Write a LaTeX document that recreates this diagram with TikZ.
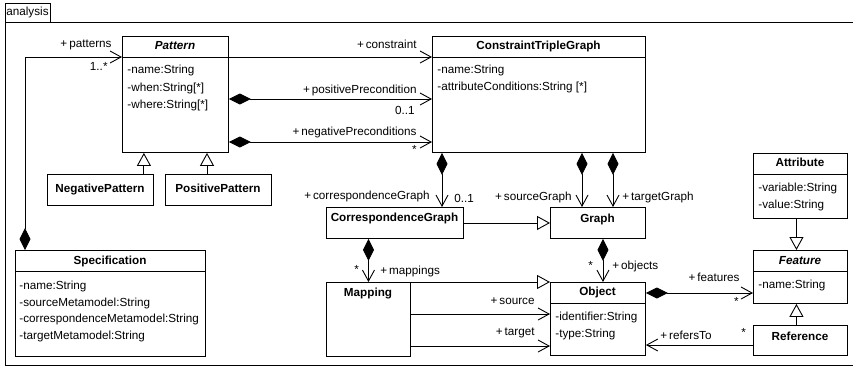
\documentclass[tikz,border=0pt]{standalone}
\usepackage{fontspec}
\setmainfont{Liberation Sans}
\usetikzlibrary{arrows.meta}

\begin{document}
\begin{tikzpicture}[x=1pt,y=-1pt,
  line width=0.9pt,
  every node/.style={font=\fontsize{11.7}{13}\selectfont, inner sep=0pt},
  cls/.style={draw, anchor=north west, inner sep=0pt},
  ttl/.style={font=\fontsize{11.7}{13}\selectfont\bfseries, anchor=mid},
  ittl/.style={font=\fontsize{11.7}{13}\selectfont\bfseries\itshape, anchor=mid},
  attr/.style={anchor=mid west},
  lblL/.style={anchor=mid east},
  lblR/.style={anchor=mid west},
  openhead/.style={-{Straight Barb[length=11pt,width=12pt,line width=0.9pt]}},
  comphead/.style={{Diamond[length=22pt,width=11pt]}-{Straight Barb[length=11pt,width=12pt,line width=0.9pt]}},
  genhead/.style={-{Triangle[open,length=13pt,width=14pt,fill=white]}}
]
\useasboundingbox (0,0) rectangle (853,367);

% package frame (its right side runs past the page edge) and its tab
\draw (5,22) rectangle (856,365);
\draw (5,3) rectangle (50,22);
\node[anchor=mid] (tab) at (27.5,13) {analysis};

% classes
\node[cls, minimum width=106pt, minimum height=116pt] (pattern) at (122,36) {};
\draw ([yshift=-21pt]pattern.north west) -- ([yshift=-21pt]pattern.north east);
\node[ittl] (patternT) at (175,47) {Pattern};
\node[attr] (pa1) at (127,71) {-name:String};
\node[attr] (pa2) at (127,89) {-when:String[*]};
\node[attr] (pa3) at (127,106) {-where:String[*]};

\node[cls, minimum width=213pt, minimum height=116pt] (ctg) at (432,36) {};
\draw ([yshift=-21pt]ctg.north west) -- ([yshift=-21pt]ctg.north east);
\node[ttl] (ctgT) at (538.5,47) {ConstraintTripleGraph};
\node[attr] (ca1) at (437,71) {-name:String};
\node[attr] (ca2) at (437,88) {-attributeConditions:String [*]};

\node[cls, minimum width=106pt, minimum height=31pt] (negp) at (47,174) {};
\node[ttl] (negpT) at (100,189.5) {NegativePattern};
\node[cls, minimum width=106pt, minimum height=31pt] (posp) at (165,174) {};
\node[ttl] (pospT) at (218,189.5) {PositivePattern};

\node[cls, minimum width=190pt, minimum height=106pt] (spec) at (15,250) {};
\draw ([yshift=-21pt]spec.north west) -- ([yshift=-21pt]spec.north east);
\node[ttl] (specT) at (110,261.5) {Specification};
\node[attr] (sa1) at (19,287) {-name:String};
\node[attr] (sa2) at (19,303.5) {-sourceMetamodel:String};
\node[attr] (sa3) at (19,320) {-correspondenceMetamodel:String};
\node[attr] (sa4) at (19,336.5) {-targetMetamodel:String};

\node[cls, minimum width=137pt, minimum height=31pt] (cg) at (326,207) {};
\node[ttl] (cgT) at (394.5,219) {CorrespondenceGraph};

\node[cls, minimum width=95pt, minimum height=31pt] (graph) at (550,207) {};
\node[ttl] (graphT) at (597.5,219.5) {Graph};

\node[cls, minimum width=84pt, minimum height=74pt] (mapping) at (326,282) {};
\node[ttl] (mappingT) at (368,294) {Mapping};

\node[cls, minimum width=95pt, minimum height=73pt] (object) at (550,282) {};
\draw ([yshift=-21pt]object.north west) -- ([yshift=-21pt]object.north east);
\node[ttl] (objectT) at (597.5,293) {Object};
\node[attr] (oa1) at (555,318) {-identifier:String};
\node[attr] (oa2) at (555,334.5) {-type:String};

\node[cls, minimum width=94pt, minimum height=65pt] (attribute) at (753,153) {};
\draw ([yshift=-21pt]attribute.north west) -- ([yshift=-21pt]attribute.north east);
\node[ttl] (attributeT) at (800,164) {Attribute};
\node[attr] (aa1) at (758,189) {-variable:String};
\node[attr] (aa2) at (758,206) {-value:String};

\node[cls, minimum width=94pt, minimum height=53pt] (feature) at (753,250) {};
\draw ([yshift=-21pt]feature.north west) -- ([yshift=-21pt]feature.north east);
\node[ittl] (featureT) at (800,261.5) {Feature};
\node[attr] (fa1) at (758,286) {-name:String};

\node[cls, minimum width=94pt, minimum height=30pt] (reference) at (753,325) {};
\node[ttl] (referenceT) at (800,337.5) {Reference};

% Specification --> Pattern
\draw[comphead] ([xshift=10pt]spec.north west) |- ([yshift=-21pt]pattern.north west);
\node[lblL] (lpat) at (112,45) {+\,patterns};
\node[lblL] (mpat) at (108,68) {1..*};

% Pattern --> ConstraintTripleGraph
\draw[openhead] ([yshift=-21pt]pattern.north east) -- ([yshift=-21pt]ctg.north west);
\node[lblL] (lcon) at (417,46) {+\,constraint};
\draw[comphead] ([yshift=-63pt]pattern.north east) -- ([yshift=-63pt]ctg.north west);
\node[lblL] (lpos) at (417,91) {+\,positivePrecondition};
\node[lblL] (mpos) at (415,112) {0..1};
\draw[comphead] ([yshift=-106pt]pattern.north east) -- ([yshift=-106pt]ctg.north west);
\node[lblL] (lneg) at (417,133) {+\,negativePreconditions};
\node[lblL] (mneg) at (417,151) {*};

% specialisations of Pattern
\draw[genhead] ([xshift=-10pt]negp.north east) -- ([xshift=-10pt]negp.north east |- pattern.south);
\draw[genhead] ([xshift=42pt]posp.north west) -- ([xshift=42pt]posp.north west |- pattern.south);

% ConstraintTripleGraph --> graphs
\draw[comphead] ([xshift=10pt]ctg.south west) -- ([xshift=10pt]ctg.south west |- cg.north);
\node[lblL] (lcg) at (430,197) {+\,correspondenceGraph};
\node[lblR] (mcg) at (454,200) {0..1};
\draw[comphead] ([xshift=32pt]graph.north west |- ctg.south) -- ([xshift=32pt]graph.north west);
\node[lblL] (lsg) at (572,198) {+\,sourceGraph};
\draw[comphead] ([xshift=63pt]graph.north west |- ctg.south) -- ([xshift=63pt]graph.north west);
\node[lblR] (ltg) at (622,198) {+\,targetGraph};

% CorrespondenceGraph is a Graph
\draw[genhead] (cg.east) -- (graph.west);

% CorrespondenceGraph --> Mapping
\draw[comphead] (mapping.north |- cg.south) -- (mapping.north);
\node[lblR] (mmap) at (354,271) {*};
\node[lblR] (lmap) at (380,272) {+\,mappings};

% Graph --> Object
\draw[comphead] ([xshift=5pt]graph.south) -- ([xshift=5pt]object.north);
\node[lblR] (mobj) at (588,267) {*};
\node[lblR] (lobj) at (612,267) {+\,objects};

% Mapping is an Object, and refers to two of them
\draw[genhead] (mapping.north east) -- (object.north west);
\draw[openhead] ([yshift=-32pt]mapping.north east) -- ([yshift=-32pt]mapping.north east -| object.west);
\node[lblL] (lsrc) at (535,302) {+\,source};
\draw[openhead] ([yshift=-64pt]mapping.north east) -- ([yshift=-64pt]mapping.north east -| object.west);
\node[lblL] (ltgt) at (535,333) {+\,target};

% Object --> Feature
\draw[comphead] ([yshift=-11pt]object.north east) -- ([yshift=-11pt]object.north east -| feature.west);
\node[lblL] (lfeat) at (740,279) {+\,features};
\node[lblL] (mfeat) at (739,303) {*};

% Attribute and Reference are Features
\draw[genhead] ([xshift=-4pt]attribute.south) -- ([xshift=-4pt]feature.north);
\draw[genhead] ([xshift=-4pt]reference.north) -- ([xshift=-4pt]feature.south);

% Reference --> Object
\draw[openhead] ([yshift=-20pt]reference.north west) -- ([yshift=-20pt]reference.north west -| object.east);
\node[lblR] (lref) at (660,337) {+\,refersTo};
\node[lblR] (mref) at (741,334) {*};
\end{tikzpicture}
\end{document}
